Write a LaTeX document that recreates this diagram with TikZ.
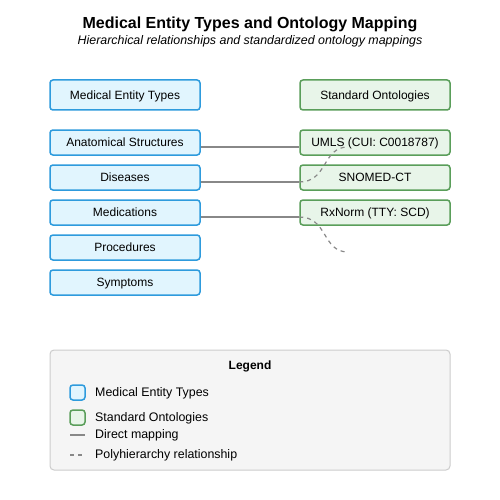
\documentclass[tikz,border=0pt]{standalone}
\usepackage{fontspec}
\setmainfont{Liberation Sans}
\begin{document}
\begin{tikzpicture}[x=1pt,y=-1pt,
  ent/.style={draw=entB,fill=entF,line width=1.5pt,rounded corners=3pt,minimum width=150pt,inner sep=0pt,text height=11.1pt,text depth=2.5pt,font=\fontsize{12}{14}\selectfont},
  ont/.style={draw=ontB,fill=ontF,line width=1.5pt,rounded corners=3pt,minimum width=150pt,inner sep=0pt,text height=11.1pt,text depth=2.5pt,font=\fontsize{12}{14}\selectfont},
  direct/.style={draw=lineG,line width=1.5pt},
  poly/.style={draw=lineG,line width=1.2pt,dash pattern=on 4pt off 4pt},
  lbl/.style={anchor=west,inner sep=0pt,font=\fontsize{12.4}{14}\selectfont}]
\definecolor{entB}{HTML}{2E9BDD}
\definecolor{entF}{HTML}{E1F5FE}
\definecolor{ontB}{HTML}{5A9E5A}
\definecolor{ontF}{HTML}{E8F5E9}
\definecolor{lineG}{HTML}{888888}
\definecolor{legB}{HTML}{CCCCCC}
\definecolor{legF}{HTML}{F5F5F5}
\useasboundingbox (0,0) rectangle (500,500);
\fill[white] (0,0) rectangle (500,500);
\node[font=\fontsize{16}{19}\selectfont\bfseries] (title) at (250,24) {Medical Entity Types and Ontology Mapping};
\node[font=\fontsize{12.4}{14}\selectfont\itshape] (sub) at (250,41) {Hierarchical relationships and standardized ontology mappings};
% left
\node[ent,minimum height=30pt] (met) at (125,95) {Medical Entity Types};
\node[ent,minimum height=25pt] (ana) at (125,142.5) {Anatomical Structures};
\node[ent,minimum height=25pt] (dis) at (125,177.5) {Diseases};
\node[ent,minimum height=25pt] (med) at (125,212.5) {Medications};
\node[ent,minimum height=25pt] (pro) at (125,247.5) {Procedures};
\node[ent,minimum height=25pt] (sym) at (125,282.5) {Symptoms};
% right
\node[ont,minimum height=30pt] (so) at (375,95) {Standard Ontologies};
\node[ont,minimum height=25pt] (umls) at (375,142.5) {UMLS (CUI: C0018787)};
\node[ont,minimum height=25pt] (sno) at (375,177.5) {SNOMED-CT};
\node[ont,minimum height=25pt] (rx) at (375,212.5) {RxNorm (TTY: SCD)};
% connectors
\draw[direct] (ana.east |- 0,147) -- (umls.west |- 0,147);
\draw[direct] (dis.east |- 0,182) -- (sno.west |- 0,182);
\draw[direct] (med.east |- 0,217) -- (rx.west |- 0,217);
\coordinate (p1end) at (348,147);
\coordinate (p2end) at (348,252);
\draw[poly] (sno.west |- 0,182) .. controls (328,182) and (322,147) .. (p1end);
\draw[poly] (rx.west |- 0,217) .. controls (328,217) and (322,252) .. (p2end);
% legend
\node[draw=legB,fill=legF,line width=1pt,rounded corners=4pt,minimum width=400pt,minimum height=120pt,inner sep=0pt] (leg) at (250,410) {};
\node[font=\fontsize{12}{14}\selectfont\bfseries] (legt) at (250,366) {Legend};
\node[draw=entB,fill=entF,line width=1.5pt,rounded corners=3pt,minimum size=15pt,inner sep=0pt] (lb) at (77.5,392.5) {};
\node[lbl] (lbt) at (95,393) {Medical Entity Types};
\node[draw=ontB,fill=ontF,line width=1.5pt,rounded corners=3pt,minimum size=15pt,inner sep=0pt] (lg) at (77.5,417.5) {};
\node[lbl] (lgt) at (95,418) {Standard Ontologies};
\coordinate (ls1) at (70,435);
\coordinate (ls2) at (85,435);
\draw[direct] (ls1) -- (ls2);
\node[lbl] (lst) at (95,435) {Direct mapping};
\coordinate (ld1) at (70,455);
\coordinate (ld2) at (85,455);
\draw[poly] (ld1) -- (ld2);
\node[lbl] (ldt) at (95,455) {Polyhierarchy relationship};
\end{tikzpicture}
\end{document}
